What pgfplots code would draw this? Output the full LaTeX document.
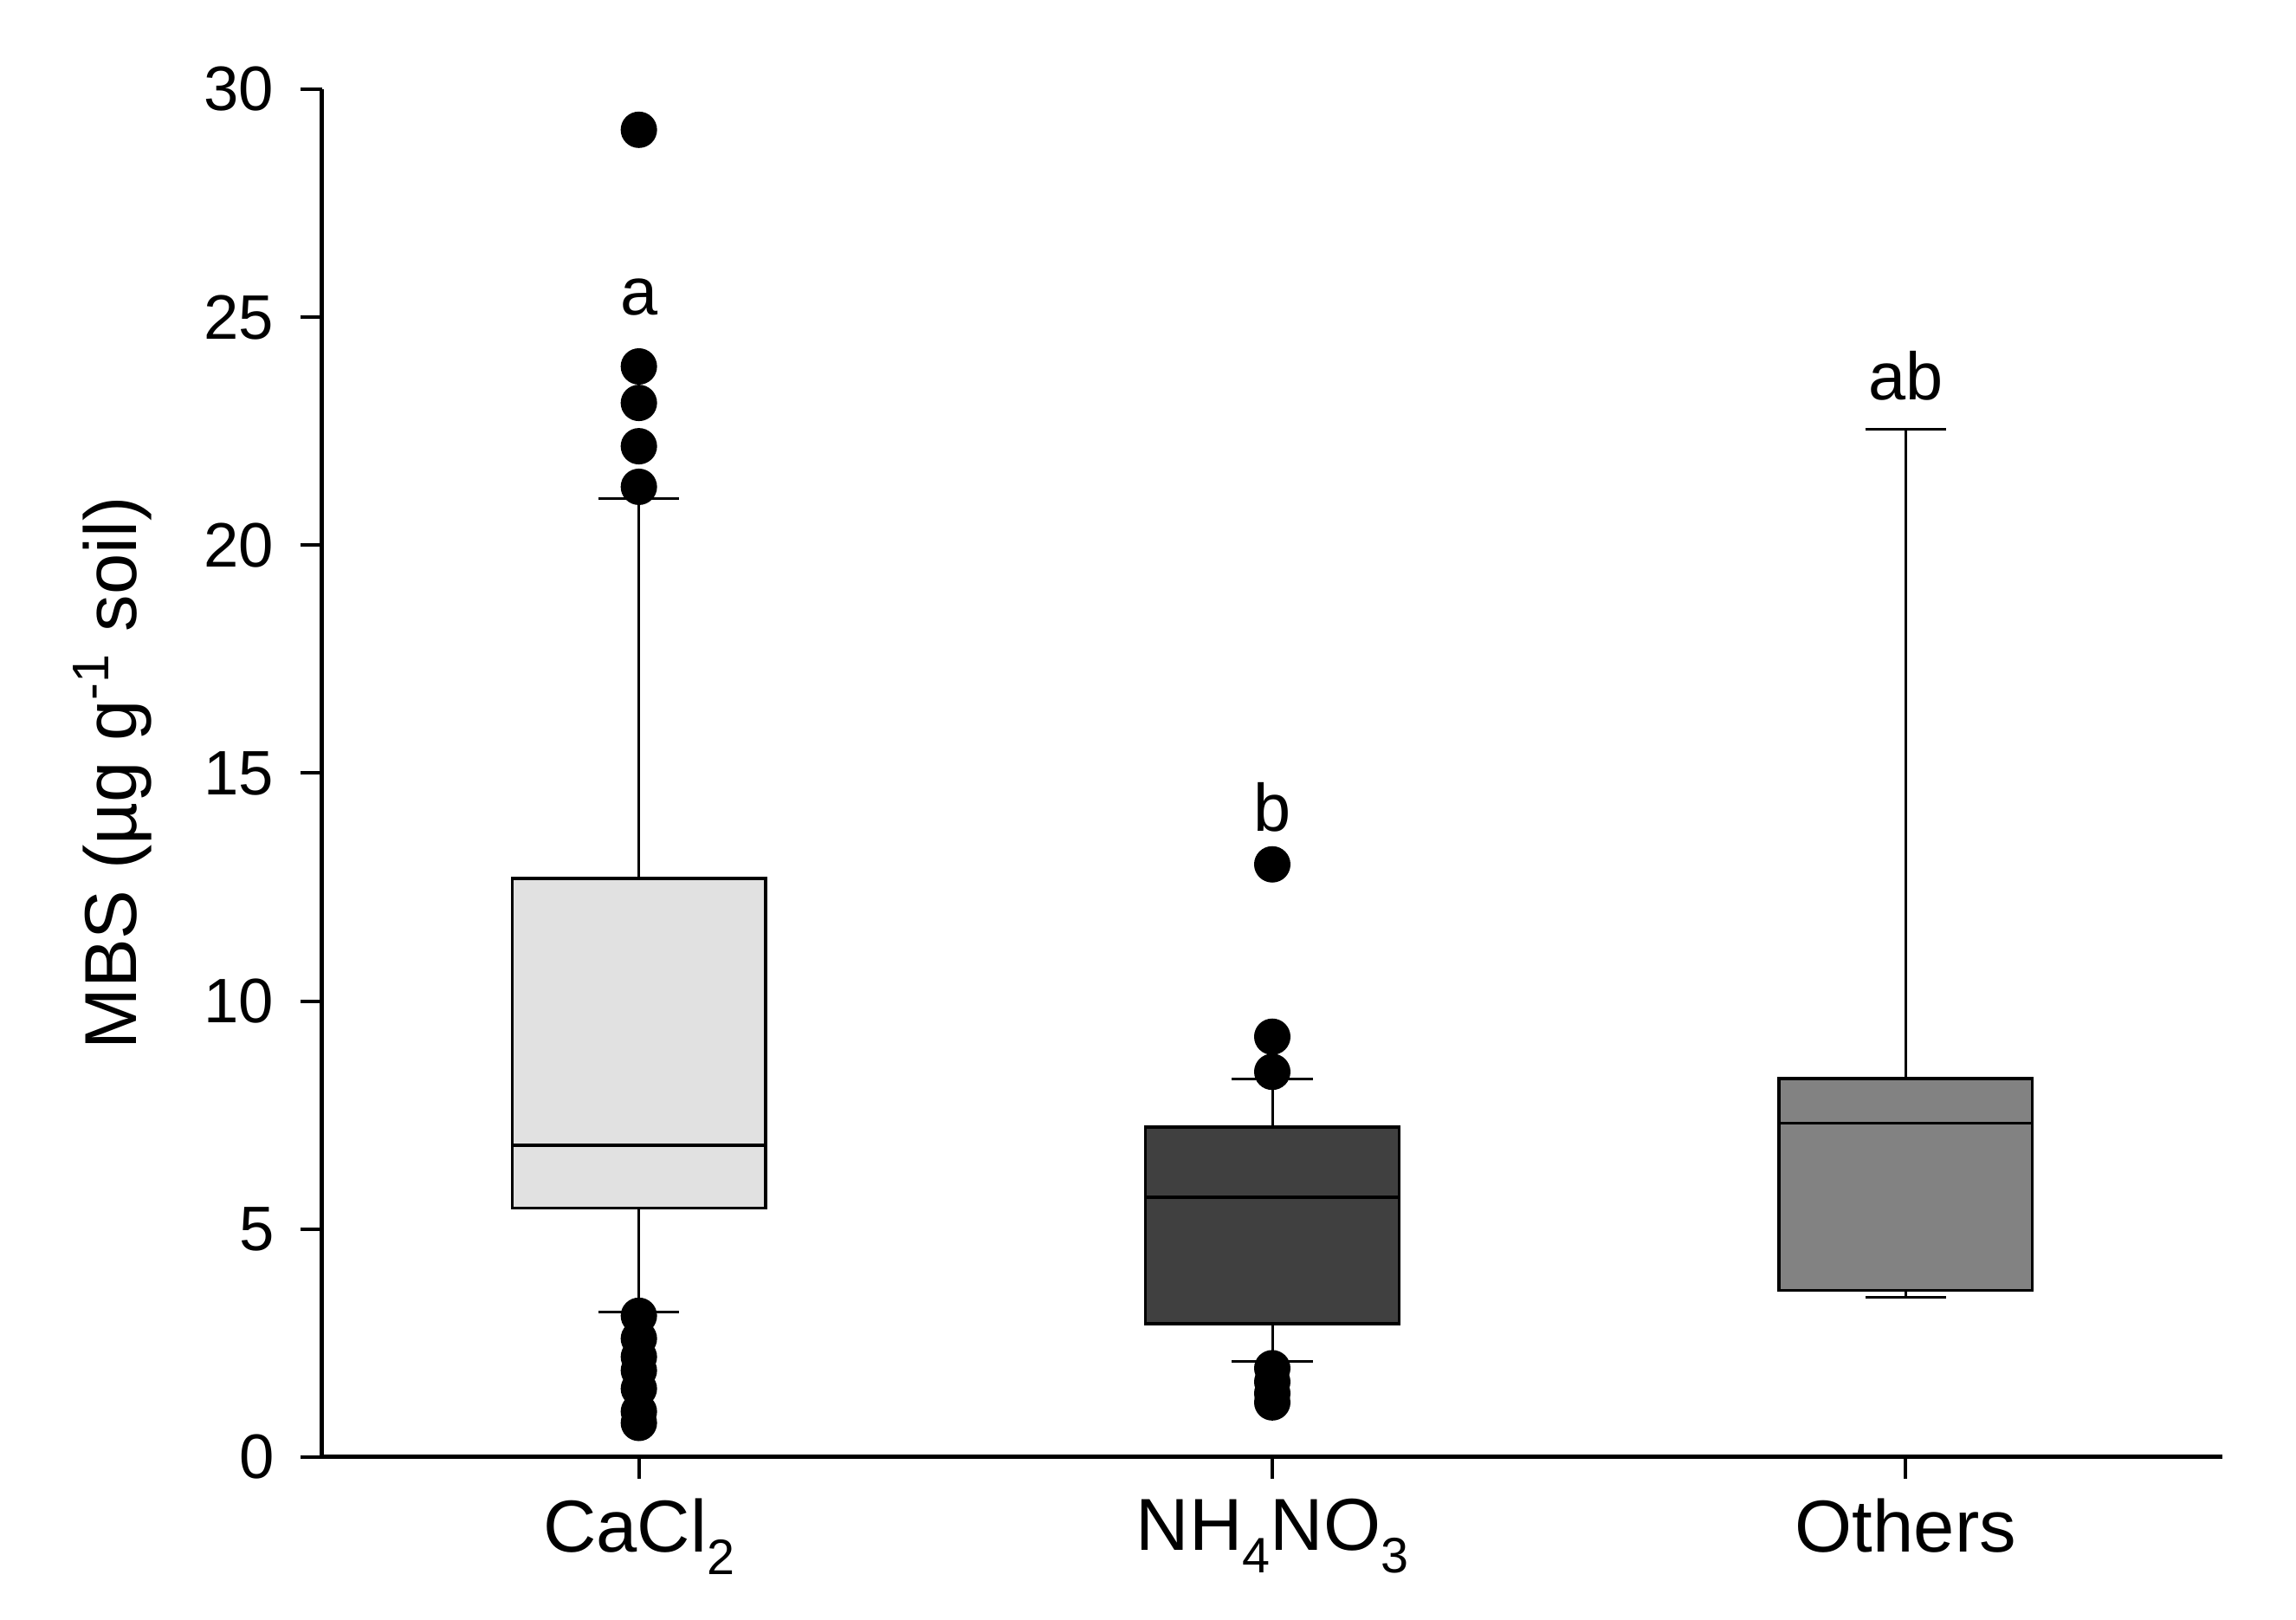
\documentclass[border=0pt]{standalone}
\usepackage{fontspec}
\setmainfont{Liberation Sans}
\usepackage{pgfplots}
\pgfplotsset{compat=1.18}
\usepgfplotslibrary{statistics}
\definecolor{lightbox}{RGB}{225,225,225}
\definecolor{darkbox}{RGB}{64,64,64}
\definecolor{midbox}{RGB}{130,130,130}
\newcommand{\sub}[1]{\raisebox{-5.2pt}{\fontsize{11.5}{13}\selectfont #1}}
\begin{document}
\begin{tikzpicture}
\useasboundingbox (-74.4pt,-37.6pt) rectangle (455.8pt,336.4pt);
\begin{axis}[
  at={(0,0)}, anchor=south west,
  scale only axis, width=438.8pt, height=315.8pt,
  xmin=-0.5, xmax=2.5, ymin=0, ymax=30,
  axis lines=left, axis line style={-, line width=1pt},
  xtick={0,1,2},
  xticklabels={CaCl\sub{2}, NH\sub{4}NO\sub{3}, Others},
  ytick={0,5,10,15,20,25,30},
  tick align=outside, major tick length=5pt,
  tick style={black, line width=0.8pt},
  /pgf/number format/assume math mode=true,
  yticklabel style={font=\fontsize{14.5}{17}\selectfont, xshift=-2.6pt},
  xticklabel style={font=\fontsize{17}{20}\selectfont, yshift=-1pt},
  ylabel={MBS (µg g\textsuperscript{-1} soil)},
  ylabel style={font=\fontsize{17}{20}\selectfont, at={(axis description cs:0,0.5)}, anchor=center, rotate=0, yshift=48.4pt},
  clip=false,
  boxplot/draw direction=y,
  boxplot/box extend=0.4,
  boxplot/whisker extend=0.128,
]
\addplot[boxplot prepared={lower whisker=3.19, lower quartile=5.46, median=6.84, upper quartile=12.69, upper whisker=21.03, draw position=0},
  black, mark=*, mark size=4pt, mark options={fill=black, draw=black, solid},
  boxplot/every box/.style={draw=black, line width=0.7pt, fill=lightbox},
  boxplot/every median/.style={draw=black, line width=0.7pt},
  boxplot/every whisker/.style={draw=black, line width=0.6pt}]
  coordinates {(0,29.11) (0,23.92) (0,23.12) (0,22.17) (0,21.28)
               (0,3.1) (0,2.6) (0,2.2) (0,1.9) (0,1.5) (0,1.0) (0,0.75)};
\addplot[boxplot prepared={lower whisker=2.09, lower quartile=2.93, median=5.70, upper quartile=7.24, upper whisker=8.30, draw position=1},
  black, mark=*, mark size=4pt, mark options={fill=black, draw=black, solid},
  boxplot/every box/.style={draw=black, line width=0.7pt, fill=darkbox},
  boxplot/every median/.style={draw=black, line width=0.7pt},
  boxplot/every whisker/.style={draw=black, line width=0.6pt}]
  coordinates {(1,13.0) (1,9.22) (1,8.45) (1,1.95) (1,1.65) (1,1.4) (1,1.2)};
\addplot[boxplot prepared={lower whisker=3.50, lower quartile=3.66, median=7.32, upper quartile=8.30, upper whisker=22.55, draw position=2},
  black, mark=*, mark size=4pt, mark options={fill=black, draw=black, solid},
  boxplot/every box/.style={draw=black, line width=0.7pt, fill=midbox},
  boxplot/every median/.style={draw=black, line width=0.7pt},
  boxplot/every whisker/.style={draw=black, line width=0.6pt}]
  coordinates {};
\node[font=\fontsize{15.5}{18}\selectfont] at (axis cs:0,25.44) {a};
\node[font=\fontsize{15.5}{18}\selectfont] at (axis cs:1,14.25) {b};
\node[font=\fontsize{15.5}{18}\selectfont] at (axis cs:2,23.72) {ab};
\end{axis}
\end{tikzpicture}
\end{document}
